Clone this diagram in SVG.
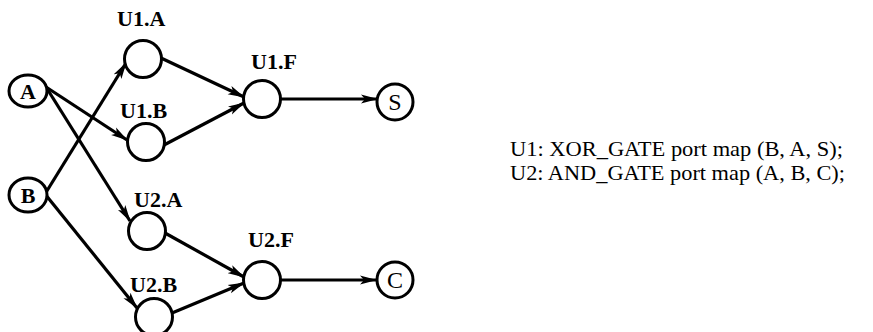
<svg xmlns="http://www.w3.org/2000/svg" width="873" height="332" viewBox="0 0 873 332">
  <style>
    .node { fill: #fff; stroke: #000; stroke-width: 3; }
    .edge { fill: none; stroke: #000; stroke-width: 3.2; marker-end: url(#arrow); }
    .lbl { font-family: "Liberation Serif", "Times New Roman", serif; font-size: 22px; font-weight: bold; fill: #000; }
    .pin { font-family: "Liberation Serif", "Times New Roman", serif; font-size: 22px; font-weight: bold; fill: #000; text-anchor: middle; }
    .out { font-family: "Liberation Serif", "Times New Roman", serif; font-size: 24px; fill: #000; text-anchor: middle; }
    .code { font-family: "Liberation Serif", "Times New Roman", serif; font-size: 21px; fill: #000; }
  </style>
  <defs>
    <marker id="arrow" markerUnits="userSpaceOnUse" markerWidth="18" markerHeight="10" refX="16" refY="5" orient="auto">
      <path d="M0,0.5 L17,5 L0,9.5 L4,5 Z" fill="#000"/>
    </marker>
  </defs>

  <!-- connectors -->
  <g id="connectors">
    <line class="edge" x1="46" y1="87" x2="127" y2="140"/>
    <line class="edge" x1="46" y1="87" x2="130" y2="221"/>
    <line class="edge" x1="45" y1="194" x2="126" y2="63"/>
    <line class="edge" x1="45" y1="194" x2="137" y2="308"/>
    <line class="edge" x1="161" y1="58" x2="244" y2="97"/>
    <line class="edge" x1="164" y1="145" x2="244" y2="103"/>
    <line class="edge" x1="281" y1="99" x2="377" y2="99"/>
    <line class="edge" x1="165" y1="233" x2="244" y2="277"/>
    <line class="edge" x1="172" y1="313" x2="244" y2="283"/>
    <line class="edge" x1="281" y1="280" x2="376" y2="280"/>
  </g>

  <!-- primary inputs -->
  <g id="in-A">
    <ellipse class="node" cx="28" cy="91" rx="19" ry="16"/>
    <text class="pin" x="28" y="99">A</text>
  </g>
  <g id="in-B">
    <ellipse class="node" cx="28" cy="195" rx="19" ry="17"/>
    <text class="pin" x="28" y="203">B</text>
  </g>

  <!-- U1 ports -->
  <g id="U1-A">
    <circle class="node" cx="143" cy="59" r="18.5"/>
    <text class="lbl" x="117" y="26">U1.A</text>
  </g>
  <g id="U1-B">
    <circle class="node" cx="146" cy="142" r="18.5"/>
    <text class="lbl" x="120" y="118">U1.B</text>
  </g>
  <g id="U1-F">
    <circle class="node" cx="262" cy="99" r="18.5"/>
    <text class="lbl" x="251" y="69">U1.F</text>
  </g>

  <!-- U2 ports -->
  <g id="U2-A">
    <circle class="node" cx="147" cy="231" r="18.5"/>
    <text class="lbl" x="134" y="207">U2.A</text>
  </g>
  <g id="U2-B">
    <circle class="node" cx="154" cy="317" r="18.5"/>
    <text class="lbl" x="130" y="292">U2.B</text>
  </g>
  <g id="U2-F">
    <circle class="node" cx="262" cy="280" r="18.5"/>
    <text class="lbl" x="248" y="247">U2.F</text>
  </g>

  <!-- primary outputs -->
  <g id="out-S">
    <circle class="node" cx="395" cy="102" r="18"/>
    <text class="out" x="395" y="110">S</text>
  </g>
  <g id="out-C">
    <circle class="node" cx="395" cy="280" r="18"/>
    <text class="out" x="395" y="288">C</text>
  </g>

  <!-- instantiation text -->
  <g id="portmaps">
    <text class="code" x="510" y="156" textLength="333" lengthAdjust="spacingAndGlyphs">U1: XOR_GATE port map (B, A, S);</text>
    <text class="code" x="510" y="180" textLength="335" lengthAdjust="spacingAndGlyphs">U2: AND_GATE port map (A, B, C);</text>
  </g>
</svg>
